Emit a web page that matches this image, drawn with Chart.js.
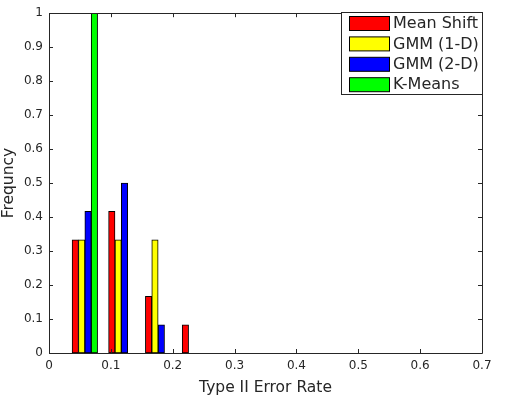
<!DOCTYPE html>
<html>
<head>
<meta charset="utf-8">
<script src="https://cdn.jsdelivr.net/npm/chart.js@4.4.0/dist/chart.umd.min.js"></script>
<style>
  html, body { margin: 0; padding: 0; background: #fff; }
  #wrap { width: 507px; height: 399px; }
</style>
</head>
<body>
<div id="wrap"><canvas id="histChart"></canvas></div>
<script>
// bar centres and heights
const meanShiftX = [0.0425, 0.1015, 0.161, 0.2205];
const meanShiftY = [0.333, 0.417, 0.167, 0.083];
const gmm1X = [0.0528, 0.1118, 0.1713];
const gmm1Y = [0.333, 0.333, 0.333];
const gmm2X = [0.0631, 0.1221, 0.1816];
const gmm2Y = [0.417, 0.5, 0.083];
const kmeansX = [0.0734];
const kmeansY = [1];

const seriesNames = ['Mean Shift', 'GMM (1-D)', 'GMM (2-D)', 'K-Means'];
const seriesColors = ['#ff0000', '#ffff00', '#0000ff', '#00ff00'];

const xTicks = [0, 0.1, 0.2, 0.3, 0.4, 0.5, 0.6, 0.7];
const yTicks = [0, 0.1, 0.2, 0.3, 0.4, 0.5, 0.6, 0.7, 0.8, 0.9, 1];

const TXT = '#262626';
const FONT = 'DejaVu Sans';

function pts(xs, ys) {
  return xs.map((x, i) => ({ x: x, y: ys[i] }));
}

const allX = [meanShiftX, gmm1X, gmm2X, kmeansX];
const allY = [meanShiftY, gmm1Y, gmm2Y, kmeansY];

const datasets = seriesNames.map((name, i) => ({
  label: name,
  data: pts(allX[i], allY[i]),
  backgroundColor: seriesColors[i],
  borderColor: '#000',
  borderWidth: 1,
  borderSkipped: false,
  barThickness: 6.4,
  grouped: false
}));

// matlab style box: inward ticks on all four sides + legend in the corner
const boxPlugin = {
  id: 'matlabBox',
  afterDraw(chart) {
    const ctx = chart.ctx;
    const a = chart.chartArea;
    const xs = chart.scales.x, ys = chart.scales.y;
    ctx.save();
    ctx.strokeStyle = TXT;
    ctx.lineWidth = 1;
    ctx.beginPath();
    ctx.rect(Math.round(a.left) + 0.5, Math.round(a.top) + 0.5,
             Math.round(a.right - a.left), Math.round(a.bottom - a.top));
    xTicks.forEach(v => {
      const px = Math.round(xs.getPixelForValue(v)) + 0.5;
      ctx.moveTo(px, a.bottom); ctx.lineTo(px, a.bottom - 4);
      ctx.moveTo(px, a.top); ctx.lineTo(px, a.top + 4);
    });
    yTicks.forEach(v => {
      const py = Math.round(ys.getPixelForValue(v)) + 0.5;
      ctx.moveTo(a.left, py); ctx.lineTo(a.left + 4, py);
      ctx.moveTo(a.right, py); ctx.lineTo(a.right - 4, py);
    });
    ctx.stroke();

    // legend
    const lx = 341.5, ly = 12.5, lw = 141, lh = 82;
    ctx.fillStyle = '#fff';
    ctx.fillRect(lx, ly, lw, lh);
    ctx.strokeStyle = TXT;
    ctx.strokeRect(lx, ly, lw, lh);
    ctx.font = '16px "' + FONT + '"';
    ctx.textBaseline = 'middle';
    chart.data.datasets.forEach((ds, i) => {
      const ry = 16 + i * 20.4;
      ctx.fillStyle = ds.backgroundColor;
      ctx.fillRect(349.5, ry + 0.5, 40, 14);
      ctx.strokeStyle = '#000';
      ctx.strokeRect(349.5, ry + 0.5, 40, 14);
      ctx.fillStyle = TXT;
      ctx.fillText(ds.label, 393, ry + 8);
    });
    ctx.restore();
  }
};

new Chart(document.getElementById('histChart'), {
  type: 'bar',
  data: { datasets: datasets },
  plugins: [boxPlugin],
  options: {
    responsive: true,
    maintainAspectRatio: false,
    animation: false,
    layout: { padding: { top: 12, right: 25, left: 0, bottom: 0 } },
    plugins: { legend: { display: false }, tooltip: { enabled: false } },
    scales: {
      x: {
        type: 'linear',
        offset: false,
        min: 0, max: 0.7,
        afterBuildTicks: s => { s.ticks = xTicks.map(v => ({ value: v })); },
        afterFit: s => { s.height = 46; },
        grid: { display: false, drawTicks: false, offset: false },
        border: { display: false },
        ticks: {
          color: TXT, padding: 6,
          font: { family: FONT, size: 12 },
          maxRotation: 0,
          callback: v => String(+v.toFixed(1))
        },
        title: {
          display: true, text: 'Type II Error Rate', color: TXT,
          font: { family: FONT, size: 15.5 },
          padding: { top: 0, bottom: 2 }
        }
      },
      y: {
        min: 0, max: 1,
        afterBuildTicks: s => { s.ticks = yTicks.map(v => ({ value: v })); },
        afterFit: s => { s.width = 49; },
        grid: { display: false, drawTicks: false },
        border: { display: false },
        ticks: {
          color: TXT, padding: 6,
          font: { family: FONT, size: 12 },
          callback: v => String(+v.toFixed(1))
        },
        title: {
          display: true, text: 'Frequncy', color: TXT,
          font: { family: FONT, size: 15.5 },
          padding: { top: 0, bottom: 0 }
        }
      }
    }
  }
});
</script>
</body>
</html>
